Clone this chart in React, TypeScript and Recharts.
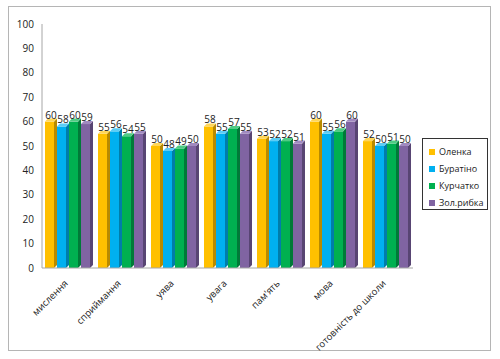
import React from 'react';
import { BarChart, Bar, XAxis, YAxis, LabelList } from 'recharts';

const categories = ['мислення', 'сприймання', 'уява', 'увага', "пам'ять", 'мова', 'готовність до школи'];
const olenka = [60, 55, 50, 58, 53, 60, 52];
const buratino = [58, 56, 48, 55, 52, 55, 50];
const kurchatko = [60, 54, 49, 57, 52, 56, 51];
const rybka = [59, 55, 50, 55, 51, 60, 50];
const yTicks = [0, 10, 20, 30, 40, 50, 60, 70, 80, 90, 100];

const series = [
  { key: 'olenka', name: 'Оленка', color: '#FFC000', side: '#B88A00', top: '#FFD659' },
  { key: 'buratino', name: 'Буратіно', color: '#00B0F0', side: '#007DAA', top: '#5CCDF6' },
  { key: 'kurchatko', name: 'Курчатко', color: '#00B050', side: '#007A38', top: '#4FCB84' },
  { key: 'rybka', name: 'Зол.рибка', color: '#8064A2', side: '#584573', top: '#A18AC0' },
];

const data = categories.map((name, i) => ({
  name,
  olenka: olenka[i],
  buratino: buratino[i],
  kurchatko: kurchatko[i],
  rybka: rybka[i],
}));

const FONT = '"Open Sans", "Noto Sans", sans-serif';
const D = 3; // 3d depth

// bar with a little fake 3d side and top
const make3d = (color: string, side: string, top: string) => (props: any) => {
  const { x, y, width, height } = props;
  if (!height || height <= 0) return null;
  const w = width - D;
  return (
    <g>
      <rect x={x} y={y} width={w} height={height} fill={color} />
      <polygon points={`${x + w},${y} ${x + w + D},${y - D} ${x + w + D},${y + height - D} ${x + w},${y + height}`} fill={side} />
      <polygon points={`${x},${y} ${x + D},${y - D} ${x + w + D},${y - D} ${x + w},${y}`} fill={top} />
    </g>
  );
};

const XTick = (props: any) => {
  const { x, y, payload } = props;
  return (
    <text x={x} y={y + 8} textAnchor="end" fontSize={9.5} fill="#222" fontFamily={FONT}
      transform={`rotate(-45, ${x}, ${y + 8})`}>
      {payload.value}
    </text>
  );
};

export default function App() {
  return (
    <div style={{ position: 'absolute', left: 0, top: 0, width: 500, height: 359, background: '#fff' }}>
      <div style={{ position: 'absolute', left: 8, top: 6, width: 483, height: 345, border: '1px solid #b5b5b5', boxSizing: 'border-box' }} />
      <div style={{ position: 'absolute', left: 0, top: 0 }}>
        <BarChart width={500} height={359} data={data}
          margin={{ top: 24, right: 87, bottom: 11, left: 0 }}
          barCategoryGap={3} barGap={0}>
          <XAxis dataKey="name" interval={0} height={80} tick={<XTick />}
            tickLine={false} axisLine={{ stroke: '#a6a6a6' }} />
          <YAxis domain={[0, 100]} ticks={yTicks} width={42} interval={0}
            tick={{ fontSize: 10, fill: '#222', fontFamily: FONT }}
            tickLine={false} axisLine={{ stroke: '#a6a6a6' }} />
          {series.map(s => (
            <Bar key={s.key} dataKey={s.key} name={s.name} fill={s.color}
              shape={make3d(s.color, s.side, s.top)} isAnimationActive={false}>
              <LabelList dataKey={s.key} position="top" offset={3}
                style={{ fontSize: 10, fill: '#222', fontFamily: FONT }} />
            </Bar>
          ))}
        </BarChart>
      </div>
      <div style={{ position: 'absolute', left: 422, top: 138, width: 66, height: 72, border: '1px solid #333', boxSizing: 'border-box', background: '#fff', fontFamily: FONT, fontSize: 9, color: '#222', padding: '4px 0 0 6px' }}>
        {series.map(s => (
          <div key={s.key} style={{ display: 'flex', alignItems: 'center', height: 17 }}>
            <span style={{ width: 6, height: 6, background: s.color, marginRight: 4, display: 'inline-block' }} />
            {s.name}
          </div>
        ))}
      </div>
    </div>
  );
}
